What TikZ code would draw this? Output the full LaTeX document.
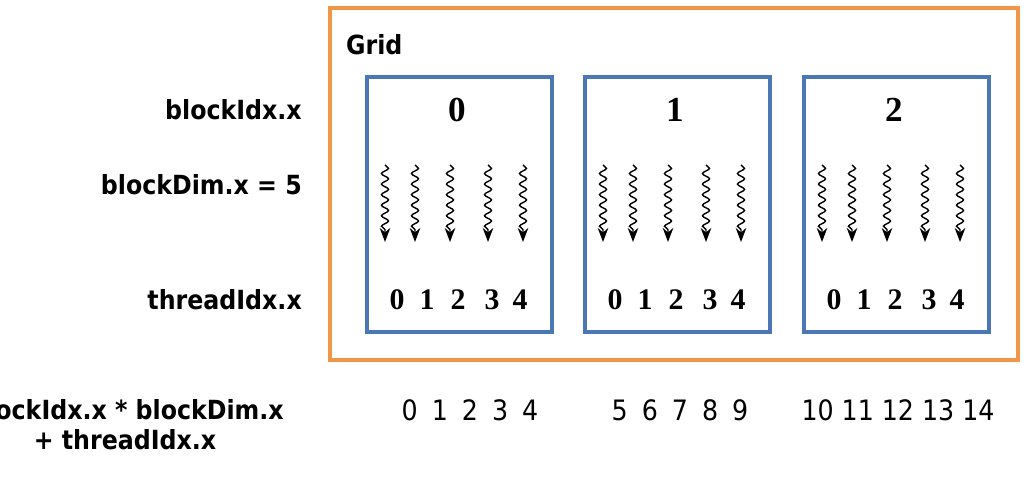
\documentclass[tikz,border=0pt]{standalone}
\usepackage{fontspec}
\setsansfont{DejaVu Sans Condensed}
\newfontfamily\numfont{Liberation Serif}
\usetikzlibrary{decorations.pathmorphing,arrows.meta}

\tikzset{
  lbl/.style={anchor=east, font=\sffamily\bfseries\fontsize{15}{17}\selectfont},
  blk/.style={line width=2.5pt, minimum width=3.7cm, minimum height=5.1cm, inner sep=0},
  thr/.style={decorate, decoration={snake, amplitude=2pt, segment length=6pt, post length=7pt}, -{Stealth[length=8pt,width=6pt]}, thick},
  idx/.style={font=\numfont\bfseries\fontsize{17}{19}\selectfont},
  gid/.style={font=\sffamily\fontsize{16}{18}\selectfont}
}
\definecolor{gridorange}{RGB}{240,150,70}
\definecolor{blkblue}{RGB}{75,120,180}

\begin{document}
\begin{tikzpicture}[x=0.02cm, y=-0.02cm]
	\useasboundingbox (0,0) rectangle (1026,497);
	% grid
	\draw[gridorange, line width=2.5pt] (330,8) rectangle (1018,360);
	\node[anchor=west, font=\sffamily\bfseries\fontsize{15}{17}\selectfont] (grid) at (340,45) {Grid};
	% labels on the left
	\node[lbl] (bidx) at (308,110) {blockIdx.x};
	\node[lbl] (bdim) at (308,185) {blockDim.x = 5};
	\node[lbl] (tidx) at (308,300) {threadIdx.x};
	\node[lbl] (f1) at (290,410) {blockIdx.x * blockDim.x};
	\node[lbl, anchor=center] (f2) at (125,440) {+ threadIdx.x};
	% blocks
	\foreach \b/\x in {0/365, 1/583, 2/802} {
		\node[blk, draw=blkblue, anchor=north west] (b\b) at (\x,75) {};
		\node[idx, font=\numfont\bfseries\fontsize{20}{22}\selectfont] (n\b) at (\x+92,110) {\b};
		\foreach \t/\dx/\ax in {0/32/20, 1/62/50, 2/93/85, 3/127/123, 4/155/158} {
			\coordinate (s\b\t) at (\x+\ax,165);
			\coordinate (e\b\t) at (\x+\ax,242);
			\draw[thr] (s\b\t) -- (e\b\t);
			\node[idx] (t\b\t) at (\x+\dx,300) {\t};
		}
	}
	% global indices
	\node[gid] (g0) at (470,410) {0\,\,\,1\,\,\,2\,\,\,3\,\,\,4};
	\node[gid] (g1) at (680,410) {5\,\,\,6\,\,\,7\,\,\,8\,\,\,9};
	\node[gid] (g2) at (898,410) {10 11 12 13 14};
\end{tikzpicture}
\end{document}
